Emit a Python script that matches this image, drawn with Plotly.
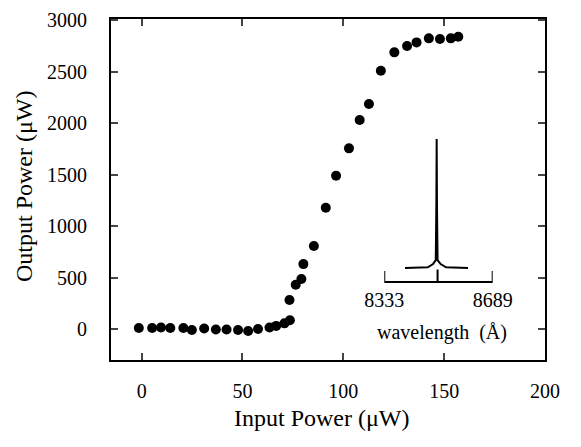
import plotly.graph_objects as go

# Main data: input power (uW) vs output power (uW)
input_power = [-1.4, 5.2, 9.6, 14.2, 20.7, 24.9, 31, 36.8, 42.1, 47.8, 52.8, 57.7,
               63.4, 66.7, 70.8, 73.5, 73.3, 76.4, 79.2, 80.2, 85.4, 91.3, 96.4,
               102.8, 108.1, 112.7, 118.6, 125.3, 131.6, 136.3, 142.4, 147.9, 153.3, 157]
output_power = [10, 10, 15, 10, 10, -10, 5, -5, -5, -10, -20, 0,
                15, 30, 55, 85, 282, 430, 485, 630, 806, 1178, 1488,
                1754, 2029, 2184, 2508, 2686, 2748, 2783, 2822, 2816, 2822, 2838]

x_ticks = [0, 50, 100, 150, 200]
y_ticks = [0, 500, 1000, 1500, 2000, 2500, 3000]

# Inset spectrum (normalized intensity vs wavelength in Angstrom)
wavelength = [8401, 8476, 8493, 8502, 8504, 8505, 8506, 8508, 8518, 8536, 8608]
intensity = [0.0, 0.005, 0.03, 0.06, 0.5, 1.0, 0.5, 0.06, 0.03, 0.005, 0.0]
inset_ticks = [8333, 8508, 8689]
inset_ticktext = ["8333", "", "8689"]

FONT = "Liberation Serif"
Y2_RANGE = [-0.125, 1]
Y2_PX = 145.0  # inset axis height in pixels
px = (Y2_RANGE[1] - Y2_RANGE[0]) / Y2_PX
bottom = Y2_RANGE[0] + 2 * px
end_top = bottom + 11 * px
mid_top = bottom + 12.5 * px

fig = go.Figure()
fig.add_trace(go.Scatter(x=input_power, y=output_power, mode="markers",
                         marker=dict(size=10, color="black"), showlegend=False))
fig.add_trace(go.Scatter(x=wavelength, y=intensity, mode="lines",
                         line=dict(color="black", width=2), xaxis="x2", yaxis="y2",
                         showlegend=False))
# bracket-style inset axis with ticks
fig.add_trace(go.Scatter(x=[inset_ticks[0], inset_ticks[0], inset_ticks[2], inset_ticks[2]],
                         y=[end_top, bottom, bottom, end_top], mode="lines",
                         line=dict(color="black", width=2), xaxis="x2", yaxis="y2",
                         showlegend=False))
fig.add_trace(go.Scatter(x=[inset_ticks[1], inset_ticks[1]], y=[bottom, mid_top],
                         mode="lines", line=dict(color="black", width=2),
                         xaxis="x2", yaxis="y2", showlegend=False))

fig.update_layout(
    template="none",
    width=581, height=447,
    margin=dict(l=111, r=36, t=19, b=87, autoexpand=False),
    paper_bgcolor="white", plot_bgcolor="white",
    font=dict(family=FONT, color="black", size=20),
    xaxis=dict(range=[-15.2, 200.0], tickvals=x_ticks, ticks="inside", ticklen=7,
               tickwidth=2, showline=True, linewidth=2, linecolor="black",
               mirror="ticks", showgrid=False, zeroline=False, automargin=False,
               ticklabelstandoff=12, tickfont=dict(size=20, family=FONT)),
    yaxis=dict(range=[-301, 3010], tickvals=y_ticks, ticks="inside", ticklen=7,
               tickwidth=2, showline=True, linewidth=2, linecolor="black",
               mirror="ticks", showgrid=False, zeroline=False, automargin=False,
               ticklabelstandoff=18, tickfont=dict(size=20, family=FONT)),
    xaxis2=dict(domain=[0.6297, 0.8795], anchor="y2", range=[8333, 8689],
                tickvals=inset_ticks, ticktext=inset_ticktext, ticks="",
                showline=False, showgrid=False, zeroline=False, automargin=False,
                ticklabelstandoff=2, tickfont=dict(size=20, family=FONT)),
    yaxis2=dict(domain=[(360 - 284) / 341, (360 - 139) / 341], anchor="x2",
                range=Y2_RANGE, showline=False, showticklabels=False, ticks="",
                showgrid=False, zeroline=False, automargin=False),
    annotations=[
        dict(text="wavelength  (Å)", xref="paper", yref="paper", x=0.762, y=0.080,
             showarrow=False, font=dict(size=20, family=FONT), xanchor="center",
             yanchor="middle"),
        dict(text="Output Power (μW)", xref="paper", yref="paper",
             x=(24 - 111) / 434, y=(360 - 186) / 341, textangle=-90,
             showarrow=False, font=dict(size=24, family=FONT), xanchor="center",
             yanchor="middle"),
        dict(text="Input Power (μW)", xref="paper", yref="paper",
             x=(322 - 111) / 434, y=(360 - 418) / 341,
             showarrow=False, font=dict(size=24, family=FONT), xanchor="center",
             yanchor="middle"),
    ],
)

fig.write_html("out.html", config={"displayModeBar": False},
               post_script="document.body.style.margin='0px';")
